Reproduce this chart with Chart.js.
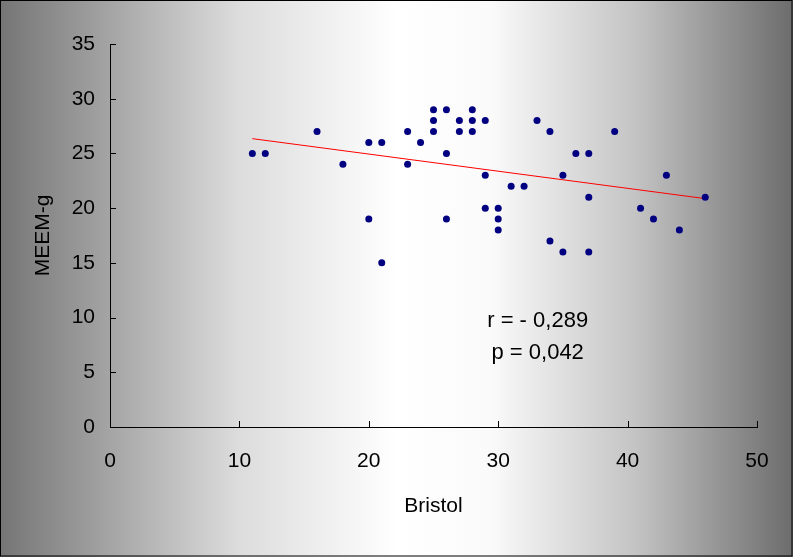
<!DOCTYPE html>
<html>
<head>
<meta charset="utf-8">
<script src="https://cdn.jsdelivr.net/npm/chart.js@4.4.1/dist/chart.umd.min.js"></script>
<style>
  html, body { margin: 0; padding: 0; background: #fff; }
  #wrap { width: 793px; height: 557px; position: relative; }
</style>
</head>
<body>
<div id="wrap"><canvas id="scatter"></canvas></div>
<script>
// values
const bristol = [11, 12, 16, 18, 20, 20, 21, 21, 23, 23, 24, 25, 25, 25, 26, 26, 26, 27, 27, 28, 28, 28, 29, 29, 29,
                 30, 30, 30, 31, 32, 33, 34, 34, 35, 35, 36, 37, 37, 37, 39, 41, 42, 43, 44, 46];
const meemG   = [25, 25, 27, 24, 26, 19, 26, 15, 27, 24, 26, 29, 28, 27, 29, 25, 19, 28, 27, 29, 28, 27, 28, 23, 20,
                 20, 19, 18, 22, 22, 28, 27, 17, 23, 16, 25, 25, 21, 16, 27, 20, 19, 23, 18, 21];
const trendX = [11, 46];
const trendY = [26.35, 20.87];
const xTicks = [0, 10, 20, 30, 40, 50];
const yTicks = [0, 5, 10, 15, 20, 25, 30, 35];
const notes = [
    { x: 33.05, y: 9.72, text: 'r = - 0,289' },
    { x: 33.05, y: 6.79, text: 'p = 0,042' }
];

const FONT = "'Liberation Sans', Arial, sans-serif";

const points = bristol.map((x, i) => ({ x: x, y: meemG[i] }));
const trend = trendX.map((x, i) => ({ x: x, y: trendY[i] }));

// grey - white - grey background and the frame
const backdrop = {
    id: 'backdrop',
    beforeDraw(chart) {
        const ctx = chart.ctx;
        const w = chart.width, h = chart.height;
        const g = ctx.createLinearGradient(0, 0, w, 0);
        g.addColorStop(0, '#757575');
        g.addColorStop(0.3, '#dcdcdc');
        g.addColorStop(0.5, '#ffffff');
        g.addColorStop(0.62, '#fafafa');
        g.addColorStop(0.8, '#c4c4c4');
        g.addColorStop(1, '#6c6c6c');
        ctx.save();
        ctx.fillStyle = g;
        ctx.fillRect(0, 0, w, h);
        ctx.restore();
    },
    afterDraw(chart) {
        const ctx = chart.ctx;
        ctx.save();
        ctx.strokeStyle = '#000';
        ctx.lineWidth = 1;
        ctx.strokeRect(0.5, 0.5, chart.width - 1.5, chart.height - 1.5);
        ctx.restore();
    }
};

// tick marks that point into the plot, and the r / p text
const extras = {
    id: 'extras',
    afterDatasetsDraw(chart) {
        const ctx = chart.ctx;
        const xs = chart.scales.x, ys = chart.scales.y;
        const area = chart.chartArea;
        ctx.save();
        ctx.strokeStyle = '#000';
        ctx.lineWidth = 1;
        ctx.beginPath();
        xTicks.forEach(v => {
            const px = Math.round(xs.getPixelForValue(v)) + 0.5;
            ctx.moveTo(px, area.bottom);
            ctx.lineTo(px, area.bottom - 6);
        });
        yTicks.forEach(v => {
            const py = Math.round(ys.getPixelForValue(v)) + 0.5;
            ctx.moveTo(area.left, py);
            ctx.lineTo(area.left + 6, py);
        });
        ctx.stroke();

        ctx.fillStyle = '#000';
        ctx.font = '22px ' + FONT;
        ctx.textAlign = 'center';
        ctx.textBaseline = 'middle';
        notes.forEach(n => {
            ctx.fillText(n.text, xs.getPixelForValue(n.x), ys.getPixelForValue(n.y));
        });
        ctx.restore();
    }
};

new Chart(document.getElementById('scatter'), {
    type: 'scatter',
    data: {
        datasets: [
            {
                label: 'MEEM-g',
                data: points,
                backgroundColor: '#000080',
                borderColor: '#000080',
                borderWidth: 0,
                pointRadius: 3.5,
                pointHoverRadius: 3.5,
                order: 1
            },
            {
                type: 'line',
                label: 'trend',
                data: trend,
                borderColor: '#ff0000',
                borderWidth: 1,
                pointRadius: 0,
                fill: false,
                order: 2
            }
        ]
    },
    options: {
        responsive: true,
        maintainAspectRatio: false,
        animation: false,
        events: [],
        layout: { padding: { top: 44, right: 36, left: 0, bottom: 0 } },
        plugins: {
            legend: { display: false },
            tooltip: { enabled: false }
        },
        scales: {
            x: {
                type: 'linear',
                min: 0,
                max: 50,
                afterBuildTicks: s => { s.ticks = xTicks.map(v => ({ value: v })); },
                afterFit: s => { s.height = 130; },
                grid: { display: true, drawOnChartArea: false, drawTicks: false },
                border: { display: true, color: '#000', width: 1 },
                ticks: { color: '#000', font: { family: FONT, size: 21 }, padding: 22, maxRotation: 0 },
                title: { display: true, text: 'Bristol', color: '#000', font: { family: FONT, size: 21 }, padding: { top: 0, bottom: 38 } }
            },
            y: {
                type: 'linear',
                min: 0,
                max: 35,
                afterBuildTicks: s => { s.ticks = yTicks.map(v => ({ value: v })); },
                afterFit: s => { s.width = 110; },
                grid: { display: true, drawOnChartArea: false, drawTicks: false },
                border: { display: true, color: '#000', width: 1 },
                ticks: { color: '#000', font: { family: FONT, size: 21 }, padding: 15 },
                title: { display: true, text: 'MEEM-g', color: '#000', font: { family: FONT, size: 21 }, padding: { top: 31, bottom: 0 } }
            }
        }
    },
    plugins: [backdrop, extras]
});
</script>
</body>
</html>
